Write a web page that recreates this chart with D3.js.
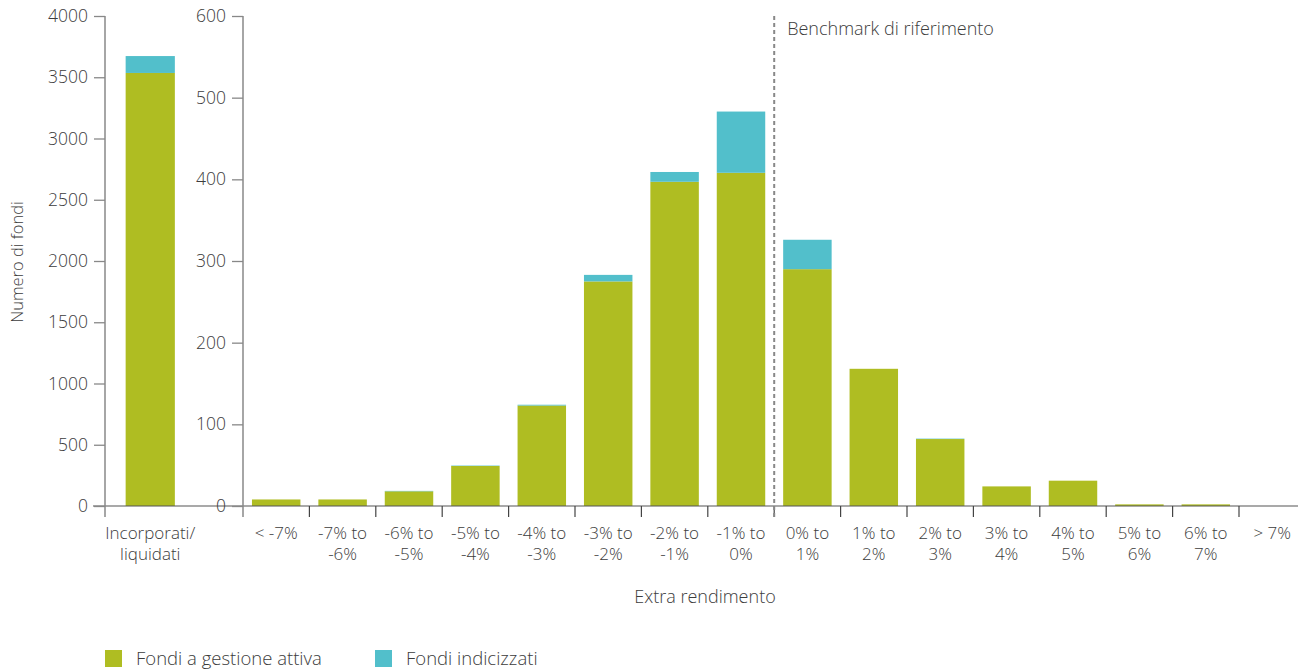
<!DOCTYPE html>
<html>
<head>
<meta charset="utf-8">
<script src="https://cdn.jsdelivr.net/npm/d3@7"></script>
<style>
  body { margin: 0; background: #fff; }
  svg { font-family: "Open Sans", Roboto, "Liberation Sans", sans-serif; font-weight: 300; }
  text { fill: #3c3c3c; }
</style>
</head>
<body>
<script>
// categories and values
var leftCats = ["Incorporati/liquidati", ""],
    leftActive = [3535, 0],
    leftIndex = [138, 0];

var cats = ["< -7%", "-7% to -6%", "-6% to -5%", "-5% to -4%", "-4% to -3%", "-3% to -2%",
            "-2% to -1%", "-1% to 0%", "0% to 1%", "1% to 2%", "2% to 3%", "3% to 4%",
            "4% to 5%", "5% to 6%", "6% to 7%", "> 7%"],
    active = [8, 8, 18, 49, 123, 275, 397, 408, 290, 168, 82, 24, 31, 2, 2, 0],
    indexed = [0, 0, 0.5, 0.5, 1, 8, 12, 75, 36, 0, 0.5, 0, 0, 0, 0, 0];

var leftTicks = [0, 500, 1000, 1500, 2000, 2500, 3000, 3500, 4000],
    rightTicks = [0, 100, 200, 300, 400, 500, 600];

var series = ["Fondi a gestione attiva", "Fondi indicizzati"],
    colors = ["#afbd22", "#52bfcb"];

var W = 1298, H = 669,
    plotTop = 16, base = 506;

var svg = d3.select("body").append("svg")
    .attr("width", W)
    .attr("height", H);

var yLeft = d3.scaleLinear().domain([0, 4000]).range([base, plotTop]),
    yRight = d3.scaleLinear().domain([0, 600]).range([base, plotTop]);

var xLeft = d3.scaleBand().domain(leftCats).range([117, 250]).paddingInner(0.26).paddingOuter(0.13),
    x = d3.scaleBand().domain(cats).range([243, 243 + 16 * 66.4]).paddingInner(0.27).paddingOuter(0.135);

// stacked bars: left panel
var leftG = svg.append("g");
leftG.selectAll(".a").data(leftCats).enter().append("rect")
    .attr("x", d => xLeft(d))
    .attr("width", xLeft.bandwidth())
    .attr("y", (d, i) => yLeft(leftActive[i]))
    .attr("height", (d, i) => base - yLeft(leftActive[i]))
    .attr("fill", colors[0]);
leftG.selectAll(".b").data(leftCats).enter().append("rect")
    .attr("x", d => xLeft(d))
    .attr("width", xLeft.bandwidth())
    .attr("y", (d, i) => yLeft(leftActive[i] + leftIndex[i]))
    .attr("height", (d, i) => yLeft(leftActive[i]) - yLeft(leftActive[i] + leftIndex[i]))
    .attr("fill", colors[1]);

// main panel
var mainG = svg.append("g");
mainG.selectAll(".a").data(cats).enter().append("rect")
    .attr("x", d => x(d))
    .attr("width", x.bandwidth())
    .attr("y", (d, i) => yRight(active[i]))
    .attr("height", (d, i) => base - yRight(active[i]))
    .attr("fill", colors[0]);
mainG.selectAll(".b").data(cats).enter().append("rect")
    .attr("x", d => x(d))
    .attr("width", x.bandwidth())
    .attr("y", (d, i) => yRight(active[i] + indexed[i]))
    .attr("height", (d, i) => yRight(active[i]) - yRight(active[i] + indexed[i]))
    .attr("fill", colors[1]);

// baseline
svg.append("line")
    .attr("x1", 93).attr("x2", W)
    .attr("y1", base).attr("y2", base)
    .attr("stroke", "#555").attr("stroke-width", 1.2);

// y axes
function yAxis(scale, ticks, xPos) {
  var g = svg.append("g")
      .attr("transform", `translate(${xPos},0)`)
      .call(d3.axisLeft(scale).tickValues(ticks).tickSize(11).tickPadding(6).tickFormat(d3.format("d")));
  g.attr("font-family", null).attr("font-size", null);
  g.select(".domain").remove();
  g.selectAll(".tick line").attr("stroke", "#888").attr("stroke-width", 1.3);
  g.selectAll(".tick text").attr("font-size", 17.5).attr("fill", "#3c3c3c");
  g.append("line").attr("x1", 0).attr("x2", 0).attr("y1", plotTop).attr("y2", base + 11)
      .attr("stroke", "#888").attr("stroke-width", 1.5);
  return g;
}
yAxis(yLeft, leftTicks, 105);
yAxis(yRight, rightTicks, 243);

// x axis ticks (band boundaries) and labels
var bounds = cats.slice(1).map(d => x(d) - x.step() * x.paddingInner() / 2);
svg.selectAll(".xt").data(bounds).enter().append("line")
    .attr("x1", d => d).attr("x2", d => d)
    .attr("y1", base).attr("y2", base + 11)
    .attr("stroke", "#444").attr("stroke-width", 1.2);

// two-line category labels, one text per line
function wrapLabel(sel, label, cx) {
  var parts = label.indexOf(" to ") > 0 ? [label.split(" to ")[0] + " to", label.split(" to ")[1]]
            : label.indexOf("/") > 0 ? [label.split("/")[0] + "/", label.split("/")[1]] : [label];
  parts.forEach((p, i) => sel.append("text")
      .attr("x", cx).attr("y", base + 33 + i * 20.5)
      .attr("text-anchor", "middle")
      .attr("font-size", 17)
      .text(p));
}
cats.forEach(c => wrapLabel(svg, c, x(c) + x.bandwidth() / 2));
wrapLabel(svg, leftCats[0], xLeft(leftCats[0]) + xLeft.bandwidth() / 2);

// benchmark line
var bx = x(cats[8]) - x.step() * x.paddingInner() / 2;
svg.append("line")
    .attr("x1", bx).attr("x2", bx)
    .attr("y1", plotTop).attr("y2", base + 11)
    .attr("stroke", "#888").attr("stroke-width", 2)
    .attr("stroke-dasharray", "4,3");
svg.append("text")
    .attr("x", bx + 13).attr("y", 35)
    .attr("font-size", 18)
    .text("Benchmark di riferimento");

// axis titles
svg.append("text")
    .attr("transform", "translate(23,262) rotate(-90)")
    .attr("text-anchor", "middle")
    .attr("font-size", 16.5)
    .text("Numero di fondi");
svg.append("text")
    .attr("x", 705).attr("y", 603)
    .attr("text-anchor", "middle")
    .attr("font-size", 18)
    .text("Extra rendimento");

// legend
var legX = [105, 375];
series.forEach((s, i) => {
  svg.append("rect")
      .attr("x", legX[i]).attr("y", 650)
      .attr("width", 17).attr("height", 17)
      .attr("fill", colors[i]);
  svg.append("text")
      .attr("x", legX[i] + 31).attr("y", 665)
      .attr("font-size", 18.5)
      .text(s);
});
</script>
</body>
</html>
